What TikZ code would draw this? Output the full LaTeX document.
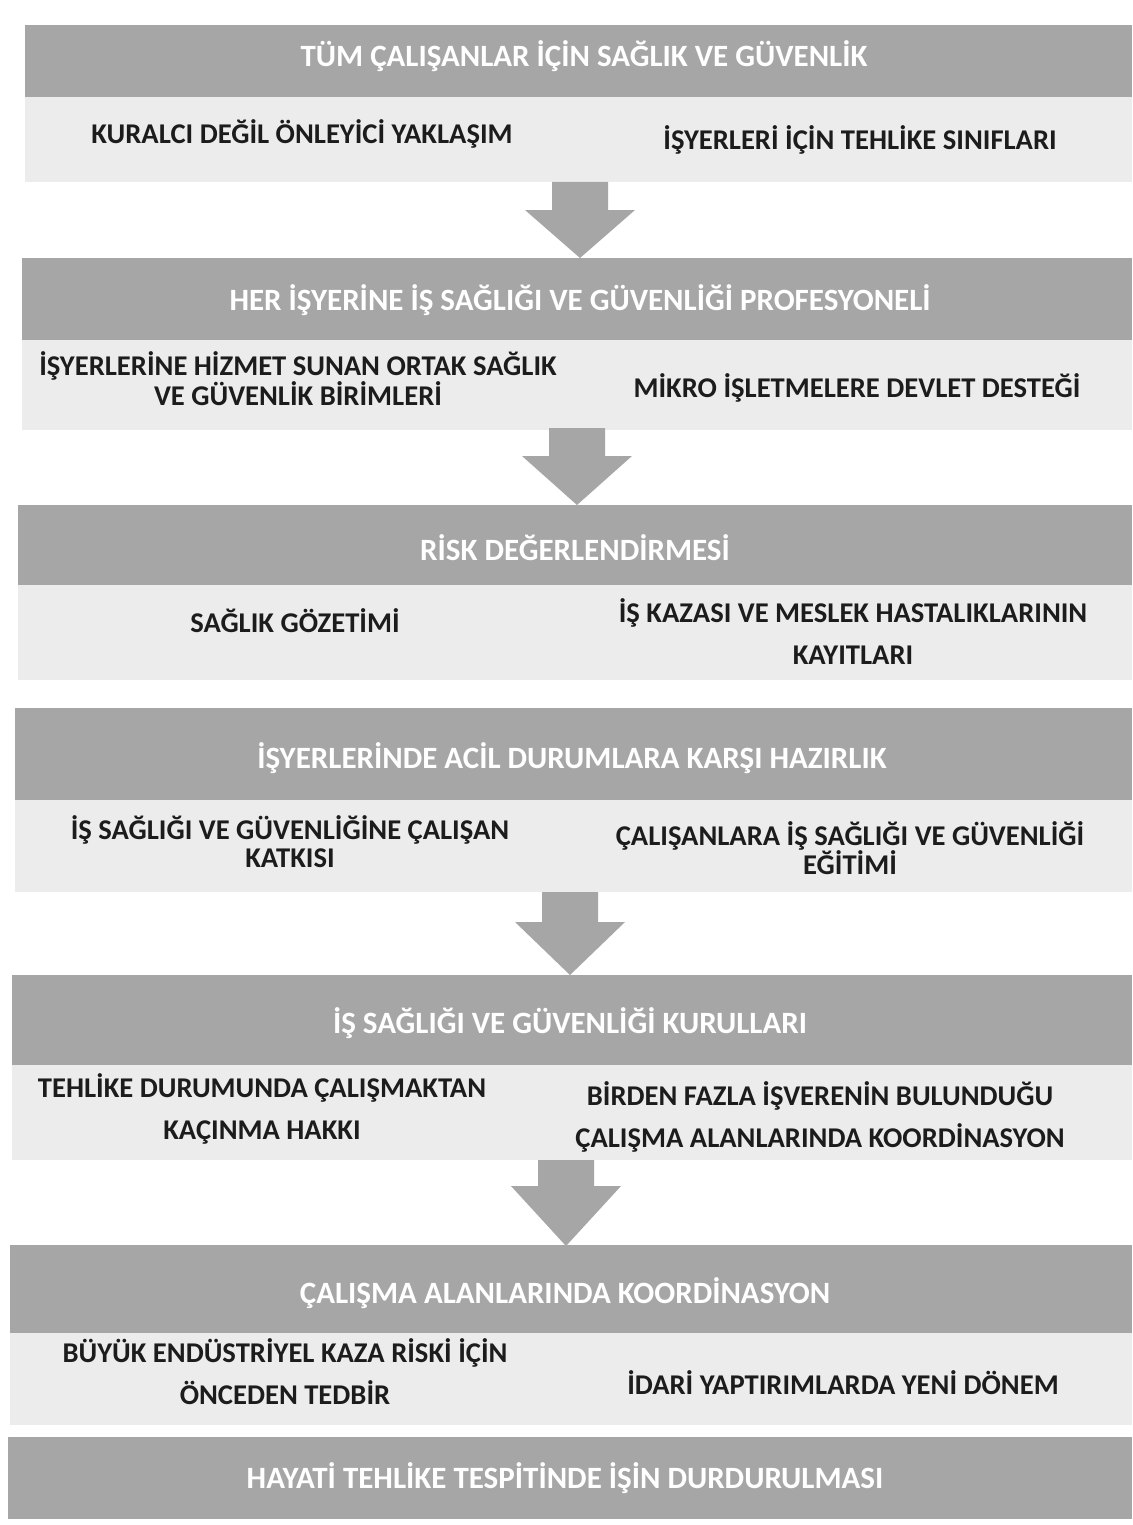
\documentclass[tikz,border=0pt]{standalone}
\usepackage{fontspec}
\setmainfont{Carlito}
\begin{document}
\begin{tikzpicture}[x=1pt,y=-1pt,
  hdrbar/.style={fill=hdrgray, inner sep=0pt, text=white, font=\bfseries\fontsize{31}{35}\selectfont},
  subbar/.style={fill=subgray, inner sep=0pt},
  lbl/.style={text=txtdark, align=center, font=\bfseries\fontsize{28.6}{42}\selectfont, inner sep=0pt},
  lbltight/.style={text=txtdark, align=center, font=\bfseries\fontsize{28.6}{28}\selectfont, inner sep=0pt},
  downarrow/.pic={\fill[arrowgray] (-28,0) -- (28,0) -- (28,\pgfkeysvalueof{/tikz/headtop}) -- (55,\pgfkeysvalueof{/tikz/headtop}) -- (0,\pgfkeysvalueof{/tikz/tiplen}) -- (-55,\pgfkeysvalueof{/tikz/headtop}) -- (-28,\pgfkeysvalueof{/tikz/headtop}) -- cycle;},
  headtop/.initial=28, tiplen/.initial=75]
\definecolor{hdrgray}{HTML}{A6A6A6}
\definecolor{subgray}{HTML}{ECECEC}
\definecolor{arrowgray}{HTML}{A6A6A6}
\definecolor{txtdark}{HTML}{1C1C1C}
\useasboundingbox (0,0) rectangle (1132,1525);
\fill[white] (0,0) rectangle (1132,1525);

% Section 1
\node[subbar, minimum width=1107, minimum height=85, anchor=north west] (s1) at (25,97) {};
\node[hdrbar, minimum width=1107, minimum height=72, anchor=north west] (h1) at (25,25) {};
\node[hdrbar, fill=none] (t1) at (584,56) {TÜM ÇALIŞANLAR İÇİN SAĞLIK VE GÜVENLİK};
\node[lbl] (a1) at (302,134) {KURALCI DEĞİL ÖNLEYİCİ YAKLAŞIM};
\node[lbl] (b1) at (860,140) {İŞYERLERİ İÇİN TEHLİKE SINIFLARI};
\pic (ar1) at (580,182) [tiplen=76] {downarrow};

% Section 2
\node[subbar, minimum width=1110, minimum height=90, anchor=north west] (s2) at (22,340) {};
\node[hdrbar, minimum width=1110, minimum height=82, anchor=north west] (h2) at (22,258) {};
\node[hdrbar, fill=none] (t2) at (580,300) {HER İŞYERİNE İŞ SAĞLIĞI VE GÜVENLİĞİ PROFESYONELİ};
\node[lbltight] (a2) at (298,379) {İŞYERLERİNE HİZMET SUNAN ORTAK SAĞLIK\\VE GÜVENLİK BİRİMLERİ};
\node[lbl] (b2) at (857,388) {MİKRO İŞLETMELERE DEVLET DESTEĞİ};
\pic (ar2) at (577,428) [tiplen=77] {downarrow};

% Section 3
\node[subbar, minimum width=1114, minimum height=95, anchor=north west] (s3) at (18,585) {};
\node[hdrbar, minimum width=1114, minimum height=80, anchor=north west] (h3) at (18,505) {};
\node[hdrbar, fill=none] (t3) at (575,548) {RİSK DEĞERLENDİRMESİ};
\node[lbl] (a3) at (295,621) {SAĞLIK GÖZETİMİ};
\node[lbl] (b3) at (853,632) {İŞ KAZASI VE MESLEK HASTALIKLARININ\\KAYITLARI};

% Section 4
\node[subbar, minimum width=1117, minimum height=92, anchor=north west] (s4) at (15,800) {};
\node[hdrbar, minimum width=1117, minimum height=92, anchor=north west] (h4) at (15,708) {};
\node[hdrbar, fill=none] (t4) at (572,758) {İŞYERLERİNDE ACİL DURUMLARA KARŞI HAZIRLIK};
\node[lbltight] (a4) at (290,842) {İŞ SAĞLIĞI VE GÜVENLİĞİNE ÇALIŞAN\\KATKISI};
\node[lbltight] (b4) at (850,848) {ÇALIŞANLARA İŞ SAĞLIĞI VE GÜVENLİĞİ\\EĞİTİMİ};
\pic (ar3) at (570,892) [headtop=30, tiplen=83] {downarrow};

% Section 5
\node[subbar, minimum width=1120, minimum height=95, anchor=north west] (s5) at (12,1065) {};
\node[hdrbar, minimum width=1120, minimum height=90, anchor=north west] (h5) at (12,975) {};
\node[hdrbar, fill=none] (t5) at (570,1023) {İŞ SAĞLIĞI VE GÜVENLİĞİ KURULLARI};
\node[lbl] (a5) at (262,1109) {TEHLİKE DURUMUNDA ÇALIŞMAKTAN\\KAÇINMA HAKKI};
\node[lbl] (b5) at (820,1117) {BİRDEN FAZLA İŞVERENİN BULUNDUĞU\\ÇALIŞMA ALANLARINDA KOORDİNASYON};
\pic (ar4) at (566,1160) [headtop=26, tiplen=86] {downarrow};

% Section 6
\node[subbar, minimum width=1122, minimum height=92, anchor=north west] (s6) at (10,1333) {};
\node[hdrbar, minimum width=1122, minimum height=88, anchor=north west] (h6) at (10,1245) {};
\node[hdrbar, fill=none] (t6) at (565,1293) {ÇALIŞMA ALANLARINDA KOORDİNASYON};
\node[lbl] (a6) at (285,1372) {BÜYÜK ENDÜSTRİYEL KAZA RİSKİ İÇİN\\ÖNCEDEN TEDBİR};
\node[lbl] (b6) at (843,1383) {İDARİ YAPTIRIMLARDA YENİ DÖNEM};

% Section 7
\node[hdrbar, minimum width=1124, minimum height=82, anchor=north west] (h7) at (8,1437) {};
\node[hdrbar, fill=none] (t7) at (565,1478) {HAYATİ TEHLİKE TESPİTİNDE İŞİN DURDURULMASI};
\end{tikzpicture}
\end{document}
